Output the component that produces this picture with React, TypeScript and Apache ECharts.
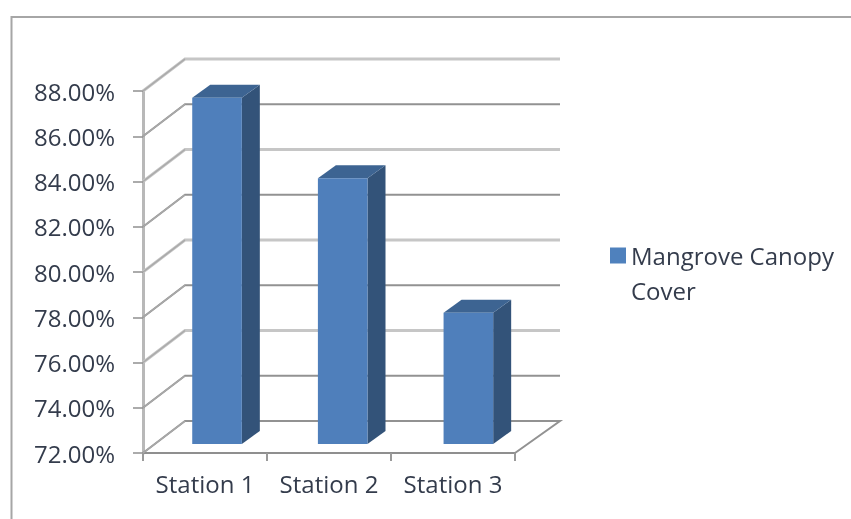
import React, { useEffect, useRef } from "react";
import * as echarts from "echarts";

const categories = ["Station 1", "Station 2", "Station 3"];
const canopyValues = [87.3, 83.75, 77.8];
const gridTicks = [72, 74, 76, 78, 80, 82, 84, 86, 88];
const seriesName = "Mangrove Canopy Cover";

const FONT = '"Open Sans", sans-serif';
const TEXT = "#343c4c";
const FONT_SIZE = 24;
const WALL_DX = 42;
const WALL_DY = -32;
const WALL_END_DX = 45;

export default function App() {
  const ref = useRef<HTMLDivElement>(null);
  useEffect(() => {
    const chart = echarts.init(ref.current!, null, { renderer: "svg" });
    chart.setOption({
      animation: false,
      backgroundColor: "#ffffff",
      textStyle: { fontFamily: FONT },
      grid: { left: 143, top: 91, width: 372, height: 362, containLabel: false },
      legend: {
        left: 605,
        top: 198,
        orient: "vertical",
        itemWidth: 16,
        itemHeight: 16,
        itemGap: 0,
        icon: "rect",
        data: [{ name: seriesName, icon: "rect", itemStyle: { color: "#4f81bd" } }],
        formatter: () => "\nMangrove Canopy\nCover",
        textStyle: {
          fontFamily: FONT,
          fontSize: FONT_SIZE,
          color: TEXT,
          lineHeight: 35,
        },
      },
      xAxis: {
        type: "category",
        data: categories,
        axisLine: { lineStyle: { color: "#8f8f8f", width: 2 } },
        axisTick: { show: true, interval: 0, length: 8, alignWithLabel: false, lineStyle: { color: "#9a9a9a", width: 2 } },
        axisLabel: { interval: 0, hideOverlap: false, fontFamily: FONT, fontSize: FONT_SIZE, color: TEXT, margin: 18 },
      },
      yAxis: {
        type: "value",
        min: 72,
        max: 88,
        interval: 2,
        axisLine: { show: true, lineStyle: { color: "#b8b8b8", width: 3 } },
        axisTick: { show: true, length: 10, lineStyle: { color: "#8f8f8f", width: 1.5 } },
        axisLabel: {
          fontFamily: FONT,
          fontSize: FONT_SIZE,
          color: TEXT,
          margin: 28,
          formatter: (v: number) => v.toFixed(2) + "%",
        },
        splitLine: { show: false },
      },
      series: [
        {
          type: "custom",
          silent: true,
          z: 1,
          data: gridTicks.map((t) => [0, t]),
          encode: { x: 0, y: 1 },
          renderItem: (params: any, api: any) => {
            const cs = params.coordSys;
            const y = api.coord([0, api.value(1)])[1];
            const idx = params.dataIndex;
            const dark = idx % 2 === 1;
            const base = idx === 0;
            const left = cs.x;
            const right = cs.x + cs.width;
            const backY = y + WALL_DY;
            const pts = [
              [left, y],
              [left + WALL_DX, backY],
              [right + WALL_END_DX, backY],
            ];
            if (base) pts.push([right, y]);
            return {
              type: "group",
              children: [
                {
                  type: "polyline",
                  shape: { points: pts },
                  style: {
                    fill: "none",
                    stroke: base || dark ? "#929292" : "#c6c6c6",
                    lineWidth: base || dark ? 2 : 3,
                  },
                },
                {
                  type: "line",
                  shape: { x1: left, y1: y, x2: left + WALL_DX, y2: backY },
                  style: { stroke: "#a9a9a9", lineWidth: 1.5 },
                },
              ],
            };
          },
        },
        {
          type: "custom",
          name: seriesName,
          z: 2,
          itemStyle: { color: "#4f81bd" },
          data: canopyValues.map((v, i) => [i, v]),
          encode: { x: 0, y: 1 },
          renderItem: (params: any, api: any) => {
            const cs = params.coordSys;
            const i = api.value(0);
            const top = api.coord([i, api.value(1)]);
            const bottom = api.coord([i, 72]);
            const w = api.size([1, 0])[0] * 0.4;
            const shiftX = 11.2 + ((top[0] - cs.x) / cs.width) * 5;
            const shiftY = -9;
            const dX = 18;
            const dY = -13;
            const x0 = top[0] - w / 2 + shiftX;
            const x1 = x0 + w;
            const yT = top[1] + shiftY;
            const yB = bottom[1] + shiftY;
            return {
              type: "group",
              children: [
                {
                  type: "polygon",
                  shape: { points: [[x1, yT], [x1 + dX, yT + dY], [x1 + dX, yB + dY], [x1, yB]] },
                  style: { fill: "#335379" },
                },
                {
                  type: "polygon",
                  shape: { points: [[x0, yT], [x0 + dX, yT + dY], [x1 + dX, yT + dY], [x1, yT]] },
                  style: { fill: "#3d6492" },
                },
                {
                  type: "rect",
                  shape: { x: x0, y: yT, width: w, height: yB - yT },
                  style: { fill: "#4f7fbb" },
                },
              ],
            };
          },
        },
      ],
      graphic: [
        {
          type: "polyline",
          silent: true,
          shape: { points: [[11.5, 519], [11.5, 17], [851, 17]] },
          style: { fill: "none", stroke: "#a6a6a6", lineWidth: 2 },
        },
      ],
    });
    return () => chart.dispose();
  }, []);
  return (
    <div
      ref={ref}
      style={{ position: "fixed", left: 0, top: 0, width: 851, height: 519, filter: "blur(0.6px)" }}
    />
  );
}
